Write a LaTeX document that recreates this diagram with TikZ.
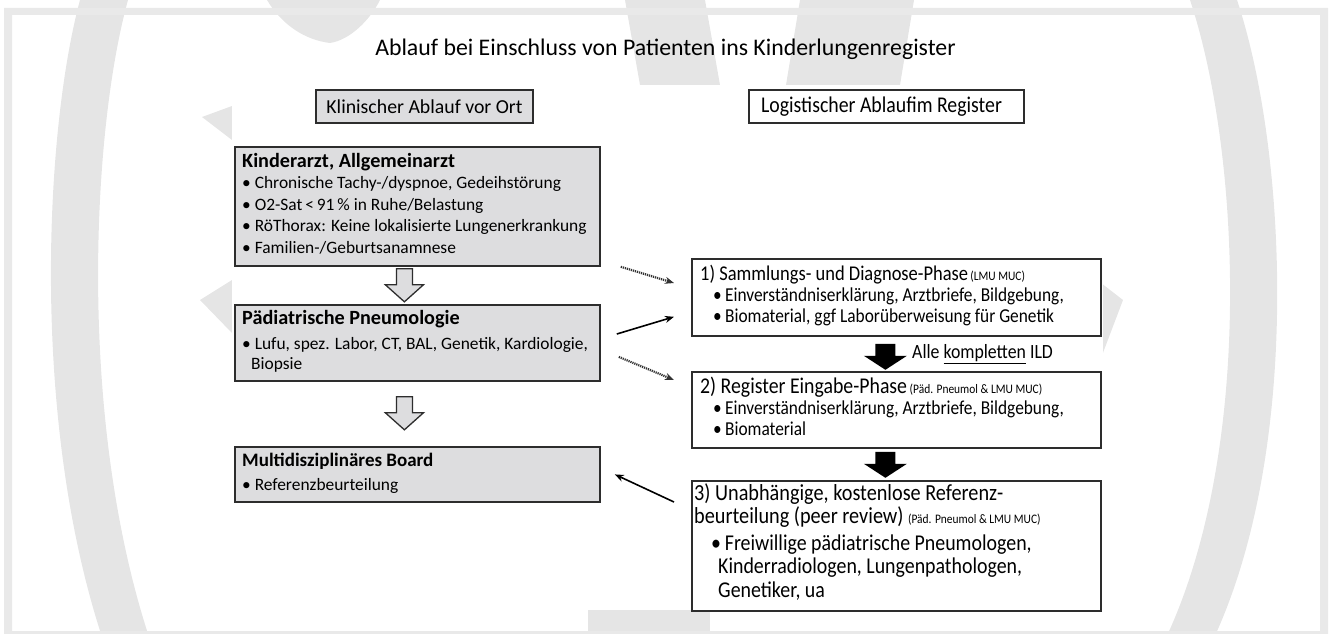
\documentclass[tikz,border=0pt]{standalone}
\usepackage{fontspec}
\setmainfont{Carlito}
\newfontfamily\cond[FakeStretch=0.88]{Carlito}
\usetikzlibrary{arrows.meta,calc}
\definecolor{boxgray}{RGB}{221,221,223}
\definecolor{wm}{RGB}{229,229,229}
\definecolor{frm}{RGB}{233,233,233}
\definecolor{edge}{RGB}{45,45,45}
\tikzset{
  hollowarrow/.pic={\draw[draw=edge, line width=1.3pt, fill=boxgray, line join=miter]
     (-8,0) -- (-8,16) -- (-19,16) -- (0,33) -- (19,16) -- (8,16) -- (8,0) -- cycle;},
  blackarrow/.pic={\fill[black] (-10,0) -- (-10,12) -- (-21.5,12) -- (0,26) -- (21.5,12) -- (10,12) -- (10,0) -- cycle;}
}
\begin{document}
\begin{tikzpicture}[x=1pt,y=-1pt,
  lbox/.style={draw=edge, line width=1.8pt, fill=boxgray, anchor=north west, inner sep=0pt},
  rbox/.style={draw=edge, line width=1.8pt, fill=white, anchor=north west, inner sep=0pt},
  ltext/.style={anchor=north west, align=left, inner sep=0pt, font=\fontsize{17.4}{21.5}\selectfont},
  rtext/.style={anchor=north west, align=left, inner sep=0pt, font=\cond\fontsize{19.7}{21}\selectfont},
  solidarr/.style={draw=black, line width=1.6pt, -{Stealth[length=9pt,width=7pt]}},
  dotarr/.style={draw=black!80, line width=2.2pt, dash pattern=on 1.2pt off 0.9pt, -{Stealth[length=9pt,width=7pt]}},
]
\useasboundingbox (0,0) rectangle (1330,634);
% watermark
\fill[wm] (80,0) .. controls (45,130) and (30,420) .. (103,640) -- (150,640) .. controls (77,420) and (92,130) .. (128,0) -- cycle;
\fill[wm] (1190,0) .. controls (1240,150) and (1255,450) .. (1165,640) -- (1213,640) .. controls (1302,450) and (1287,150) .. (1237,0) -- cycle;
\fill[wm] (267,0) .. controls (282,25) and (305,40) .. (330,43) .. controls (350,40) and (370,20) .. (380,0) -- cycle;
\fill[wm] (625,0) -- (705,0) -- (720,85) -- (640,85) -- cycle;
\fill[wm] (800,0) -- (914,0) -- (900,85) -- (786,85) -- cycle;
\fill[wm] (588,600) rectangle (710,640);
\fill[wm] (202,117) -- (232,106) -- (232,140) -- cycle;
\fill[wm] (200,300) -- (232,280) -- (232,333) -- cycle;
\fill[wm] (1123,300) -- (1101,283) -- (1101,358) -- cycle;
\fill[white] (232,85) rectangle (1103,610);
% frame
\fill[frm, even odd rule] (4,8) rectangle (1328,640) (12,15) rectangle (1320,631);
% title
\node[font=\fontsize{23.8}{24}\selectfont] (title) at (665.5,49) {Ablauf bei Einschluss von Patienten ins Kinderlungenregister};
% column headers
\node[draw=edge, line width=1.8pt, fill=boxgray, minimum width=217pt, minimum height=33pt, inner sep=0pt, font=\fontsize{19.8}{20}\selectfont] (K) at (424.5,106.5) {Klinischer Ablauf vor Ort};
\node[draw=edge, line width=1.8pt, fill=white, minimum width=275pt, minimum height=33pt, inner sep=0pt, font=\cond\fontsize{22.5}{23}\selectfont] (L) at (886.5,106.5) {\hspace*{-10pt}Logistischer Ablaufim Register};
% left boxes
\node[lbox, minimum width=365pt, minimum height=119pt] (A) at (234,146) {};
\node[ltext] (At) at ($(A.north west)+(8,7)$) {{\bfseries\fontsize{20.2}{21.5}\selectfont Kinderarzt, Allgemeinarzt}\\
\textbullet\ Chronische Tachy-/dyspnoe, Gedeihstörung\\
\textbullet\ O2-Sat\,<\,91\,\% in Ruhe/Belastung\\
\textbullet\ RöThorax: Keine lokalisierte Lungenerkrankung\\
\textbullet\ Familien-/Geburtsanamnese};
\node[lbox, minimum width=365pt, minimum height=76pt] (B) at (234,304) {};
\node[ltext] (Bt) at ($(B.north west)+(8,6)$) {{\bfseries\fontsize{20.2}{21.5}\selectfont Pädiatrische Pneumologie}\\[4pt]
\textbullet\ Lufu, spez. Labor, CT, BAL, Genetik, Kardiologie,\\[-2pt]
\hspace*{9pt}Biopsie};
\node[lbox, minimum width=365pt, minimum height=55pt] (C) at (234,446) {};
\node[ltext] (Ct) at ($(C.north west)+(8,7)$) {{\bfseries\fontsize{19}{21.5}\selectfont Multidisziplinäres Board}\\[2pt]
\textbullet\ Referenzbeurteilung};
% right boxes
\node[rbox, minimum width=409pt, minimum height=77pt] (S1) at (691,258) {};
\node[rtext] (S1t) at ($(S1.north west)+(9,7)$) {{\fontsize{21}{22}\selectfont 1) Sammlungs- und Diagnose-Phase}{\fontsize{13}{12}\selectfont\,(LMU MUC)}\\
\hspace*{13pt}\textbullet\,Einverständniserklärung, Arztbriefe, Bildgebung,\\
\hspace*{13pt}\textbullet\,Biomaterial, ggf Laborüberweisung für Genetik};
\node[rbox, minimum width=409pt, minimum height=76pt] (S2) at (691,371) {};
\node[rtext] (S2t) at ($(S2.north west)+(9,6)$) {{\fontsize{22.5}{22}\selectfont 2) Register Eingabe-Phase}{\fontsize{13}{12}\selectfont\ (Päd. Pneumol \& LMU MUC)}\\
\hspace*{13pt}\textbullet\,Einverständniserklärung, Arztbriefe, Bildgebung,\\
\hspace*{13pt}\textbullet\,Biomaterial};
\node[rbox, minimum width=409pt, minimum height=130pt] (S3) at (691,480) {};
\node[rtext, font=\cond\fontsize{22.6}{23.5}\selectfont] (S3t) at ($(S3.north west)+(3,3)$) {{\fontsize{23}{23.5}\selectfont 3) Unabhängige, kostenlose Referenz-}\\
{\fontsize{23}{23.5}\selectfont beurteilung (peer review)} {\fontsize{13}{12}\selectfont (Päd. Pneumol \& LMU MUC)}\\[3pt]
\hspace*{17pt}\textbullet\,Freiwillige pädiatrische Pneumologen,\\
\hspace*{24pt}Kinderradiologen, Lungenpathologen,\\
\hspace*{24pt}Genetiker, ua};
% block arrows
\pic at ($(A.south)+(-13,2)$) {hollowarrow};
\pic at ($(B.south)+(-13,15)$) {hollowarrow};
\pic at ($(S1.south)+(-11,7)$) {blackarrow};
\pic at ($(S2.south)+(-11,3)$) {blackarrow};
\node[anchor=west, inner sep=0pt, font=\cond\fontsize{20.2}{20}\selectfont] (ild) at (912,354) {Alle \underline{kompletten} ILD};
% connectors
\coordinate (d1a) at ($(A.south east)+(20,0)$);
\coordinate (d1b) at ($(S1.north west)+(-17,25)$);
\coordinate (s2a) at ($(B.north east)+(16,30)$);
\coordinate (s2b) at ($(S1.south west)+(-17,-20)$);
\coordinate (d2a) at ($(B.east)+(18,14)$);
\coordinate (d2b) at ($(S2.north west)+(-17,9)$);
\coordinate (s3a) at ($(S3.north west)+(-17,22)$);
\coordinate (s3b) at ($(C.east)+(14,0)$);
\draw[dotarr] (d1a) -- (d1b);
\draw[solidarr] (s2a) -- (s2b);
\draw[dotarr] (d2a) -- (d2b);
\draw[solidarr] (s3a) -- (s3b);
\end{tikzpicture}
\end{document}
